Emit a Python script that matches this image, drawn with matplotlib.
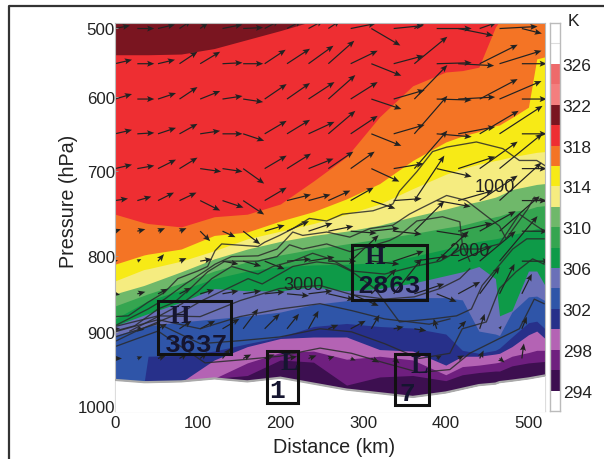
import numpy as np
import matplotlib
matplotlib.use("Agg")
import matplotlib.pyplot as plt
from matplotlib.lines import Line2D
from matplotlib.patches import Rectangle
from matplotlib.colors import ListedColormap, BoundaryNorm
from matplotlib.ticker import NullLocator

plt.rcParams['font.family'] = ['Liberation Sans', 'DejaVu Sans']

# ================================
# Data
# ================================
dist_km = [0, 35, 40, 80, 120, 160, 200, 240, 280, 320, 360, 400, 420, 440, 460, 465, 480, 500, 510, 520]

# pressure (hPa) of each isentrope along the section
th_320 = [539, 539, 539, 538, 530, 517, 504, 490, 480, 480, 480, 480, 480, 480, 480, 480, 480, 480, 480, 480]
th_318 = [751, 761, 762, 766, 754, 751, 739, 712, 681, 627, 584, 564, 562, 557, 499, 490, 480, 480, 480, 480]
th_316 = [811, 799, 798, 792, 776, 772, 759, 748, 733, 715, 686, 661, 653, 647, 639, 638, 628, 614, 545, 542]
th_314 = [833, 818, 817, 807, 794, 780, 771, 762, 751, 739, 721, 704, 697, 691, 686, 685, 681, 677, 675, 674]
th_312 = [850, 839, 837, 821, 804, 792, 783, 776, 771, 764, 754, 745, 740, 736, 731, 729, 722, 718, 716, 715]
th_310 = [866, 852, 850, 836, 820, 808, 799, 792, 786, 780, 774, 767, 764, 759, 754, 753, 748, 745, 742, 741]
th_308 = [883, 862, 859, 845, 830, 820, 814, 812, 811, 809, 801, 792, 788, 783, 780, 779, 775, 771, 768, 768]
th_306 = [892, 878, 876, 861, 843, 846, 846, 841, 846, 843, 836, 826, 821, 814, 830, 879, 872, 820, 820, 839]
th_304 = [905, 894, 892, 887, 883, 879, 874, 864, 859, 859, 855, 855, 858, 899, 903, 905, 874, 854, 853, 859]
th_302 = [968, 970, 933, 932, 926, 916, 907, 893, 889, 893, 895, 903, 925, 929, 925, 922, 907, 888, 886, 896]
th_300 = [966, 970, 970, 968, 938, 920, 909, 907, 907, 924, 926, 945, 933, 933, 930, 929, 920, 904, 899, 909]
th_298 = [966, 970, 970, 968, 963, 942, 928, 926, 937, 933, 938, 958, 947, 945, 942, 941, 933, 928, 925, 925]
th_296 = [966, 970, 970, 968, 963, 959, 938, 941, 972, 961, 959, 966, 958, 955, 953, 953, 946, 942, 941, 940]
ground = [965, 968, 968, 967, 963, 967, 962, 970, 978, 983, 988, 982, 977, 972, 970, 968, 966, 963, 961, 959]

# geopotential height contours, each with its own points
hgt_1_km = [0, 16, 40, 60, 76, 100, 112, 121, 129, 173, 181, 199, 215, 235, 256, 275, 312, 336, 344, 365, 384, 401, 437, 469, 489, 510, 520]
hgt_1_p = [880, 879, 861, 848, 830, 820, 814, 794, 786, 789, 784, 776, 768, 756, 759, 751, 747, 739, 724, 701, 674, 668, 661, 670, 686, 686, 693]
hgt_2_km = [0, 40, 60, 85, 109, 121, 141, 173, 196, 215, 227, 256, 284, 308, 336, 356, 368, 401, 425, 449, 465, 473, 499, 507, 520]
hgt_2_p = [892, 870, 857, 837, 820, 811, 801, 800, 792, 772, 776, 772, 778, 768, 764, 751, 745, 729, 735, 753, 765, 780, 745, 731, 736]
hgt_3_km = [0, 24, 52, 72, 93, 112, 133, 173, 196, 211, 227, 256, 284, 308, 332, 344, 365, 396, 417, 420, 429]
hgt_3_p = [899, 892, 870, 861, 841, 821, 807, 807, 801, 787, 792, 786, 795, 789, 782, 776, 759, 754, 760, 786, 807]
hgt_4_km = [18, 52, 81, 100, 117, 141, 173, 191, 215, 239, 260, 287, 326, 362, 393, 419, 441, 465, 489, 519]
hgt_4_p = [899, 880, 863, 847, 830, 814, 824, 814, 807, 797, 804, 820, 824, 814, 807, 792, 792, 786, 751, 771]
hgt_5_km = [0, 24, 52, 81, 105, 136, 161, 178, 199, 215, 244, 268, 287, 314, 344, 384, 413, 431, 444, 461, 481, 498, 519]
hgt_5_p = [913, 900, 887, 874, 859, 843, 830, 837, 824, 814, 808, 811, 821, 843, 887, 883, 879, 870, 839, 817, 792, 780, 780]
hgt_6_km = [0, 52, 103, 151, 199, 248, 286, 326, 362, 393, 417, 429]
hgt_6_p = [893, 879, 880, 859, 843, 839, 851, 857, 854, 843, 830, 817]
hgt_7_km = [0, 52, 103, 151, 199, 248, 286, 326, 380, 405]
hgt_7_p = [900, 884, 896, 880, 870, 863, 872, 883, 890, 883]
hgt_8_km = [0, 52, 103, 151, 199, 248, 286, 326, 368, 405, 420, 449, 465, 485, 505, 519]
hgt_8_p = [907, 889, 916, 912, 907, 896, 900, 916, 936, 929, 896, 887, 843, 821, 804, 811]
hgt_9_km = [0, 52, 109, 151, 199, 248, 286, 326, 368, 405, 429, 465, 489, 507, 519]
hgt_9_p = [920, 899, 942, 938, 933, 922, 929, 942, 955, 951, 929, 909, 896, 857, 863]

# wind vectors
wind_km = [0, 27, 52, 78, 103, 130, 155, 181, 208, 234, 258, 285, 310, 337, 362, 389, 415, 441, 465, 492]
wind_p = [501, 552, 603, 650, 697, 735, 771, 807, 850, 896, 936]
wind_u = [
    [15, 17, 17, 12, 8, 20, 20, 15, 15, 15, 12, 25, 29, 30, 25, 35, 35, 17, 38, 20],
    [17, 17, 17, 18, 20, 20, 20, 21, 23, 25, 26, 27, 30, 30, 33, 35, 36, 38, 42, 25],
    [17, 17, 18, 18, 20, 20, 20, 22, 23, 26, 27, 27, 30, 31, 33, 35, 37, 38, 42, 25],
    [17, 17, 18, 18, 20, 20, 21, 22, 23, 26, 27, 27, 30, 31, 33, 35, 37, 39, 43, 25],
    [17, 17, 18, 18, 21, 20, 21, 22, 24, 25, 25, 24, 28, 30, 33, 35, 37, 38, 43, 25],
    [13, 14, 16, 17, 20, 21, 21, 22, 24, 22, 22, 23, 24, 28, 30, 34, 35, 38, 42, 25],
    [6, 8, 7, 7, 10, 13, 17, 20, 22, 24, 25, 26, 28, 28, 30, 32, 34, 36, 40, 26],
    [3, 4, 6, 7, 12, 16, 18, 20, 24, 26, 28, 28, 28, 30, 34, 32, 34, 36, 38, 28],
    [5, 8, 10, 12, 14, 16, 18, 20, 22, 24, 26, 28, 25, 28, 30, 20, 22, 20, 15, 10],
    [5, 7, 9, 12, 15, 17, 15, 15, 12, 10, 10, 15, 8, 10, 12, -3, 8, 5, 2, 5],
    [7, 5, 8, 8, 7, 8, 8, 10, 10, 8, 6, 5, 8, 6, 5, 5, 6, 4, 5, 2],
]
wind_v = [
    [3, 0, 4, 8, 6, 4, 1, 8, 8, 8, 8, 5, -17, 3, 13, 0, -7, 6, 2, -5],
    [4, 0, 4, 12, 12, 1, 0, 14, 15, 18, 23, 13, -12, 8, 27, 1, -2, 19, 13, 0],
    [5, 0, 6, 12, 8, 3, -3, 15, 16, 17, 24, 17, -10, 9, 34, -1, 2, 20, 18, 0],
    [4, 1, 6, 10, 3, 0, -7, 13, 14, 12, 23, 18, -12, 9, 38, -3, 7, 23, 28, 0],
    [4, 3, 9, 11, -3, -3, -15, 13, 15, 10, 17, 17, -13, 5, 38, -8, 12, 27, 35, 0],
    [2, 4, 8, 8, -10, -7, -14, 13, 6, 6, 10, 13, -8, 2, 45, -6, 10, 25, 38, 0],
    [2, 2, 3, 3, -10, -6, -13, 6, 10, 8, 5, -2, 3, -3, 30, -5, 8, 20, 35, 0],
    [1, 2, 7, 3, 2, -3, -5, -8, 2, 4, 0, 26, -3, 10, 5, 30, 15, 30, 45, 0],
    [-1, 2, 5, 6, 4, 3, 3, 2, -2, 3, -6, -12, 25, 35, 10, -8, 12, 27, 30, 20],
    [0, -1, 5, 8, 8, 10, 20, 15, 15, 18, 4, 8, 14, 2, -2, 10, 8, 15, 3, 12],
    [0, 2, 3, 5, 6, 10, 4, 4, 2, 3, 2, -2, -4, -5, 8, 3, 3, 8, -4, 15],
]

# colour scale
cb_levels = list(range(292, 332, 2))
cb_ticks = [294, 298, 302, 306, 310, 314, 318, 322, 326]
cb_colors = ['#ffffff', '#3d0f50', '#6f1f7f', '#b463b4', '#27308a', '#2f55a8', '#6a70b8',
             '#0e9a48', '#35a550', '#6fb86a', '#f5ec80', '#f7ea16', '#f47425', '#ee2e32',
             '#7a1520', '#f47e7e', '#ee6a6b', '#ffffff', '#ffffff']

# ================================
# Axis scale (the tick spacing in the figure is uneven)
# ================================
scale_p = [300, 500, 600, 700, 800, 900, 1000, 1200]
scale_y = [-109, 29, 98, 172, 257, 333, 407, 555]


def p_to_y(p):
    return np.interp(p, scale_p, scale_y)


def y_to_p(y):
    return np.interp(y, scale_y, scale_p)


W, H = 604, 460
fig = plt.figure(figsize=(W / 100, H / 100), dpi=100)
ax = fig.add_axes([115 / W, 1 - 412 / H, 430 / W, 388 / H])
ax.set_yscale('function', functions=(p_to_y, y_to_p))

# ================================
# Filled bands, painted top to bottom
# ================================
ax.fill_between(dist_km, 470, 1010, color=cb_colors[14], lw=0)
band_list = [(th_320, 13), (th_318, 12), (th_316, 11), (th_314, 10), (th_312, 9), (th_310, 8),
             (th_308, 7), (th_306, 6), (th_304, 5), (th_302, 4), (th_300, 3), (th_298, 2), (th_296, 1)]
for bound, c in band_list:
    ax.fill_between(dist_km, bound, 1010, color=cb_colors[c], lw=0)

# height contours
hgt_lines = [(hgt_1_km, hgt_1_p), (hgt_2_km, hgt_2_p), (hgt_3_km, hgt_3_p), (hgt_4_km, hgt_4_p),
             (hgt_5_km, hgt_5_p), (hgt_6_km, hgt_6_p), (hgt_7_km, hgt_7_p), (hgt_8_km, hgt_8_p),
             (hgt_9_km, hgt_9_p)]
for km, p in hgt_lines:
    ax.plot(km, p, color='#2a2a2a', lw=0.95, alpha=0.85)

# winds
X, Y = np.meshgrid(wind_km, wind_p)
ax.quiver(X, Y, np.array(wind_u), np.array(wind_v), angles='uv', scale_units='dots', scale=1,
          pivot='tail', color='#222222', width=0.0028, headwidth=5, headlength=6, headaxislength=5)

# below ground
ax.fill_between(dist_km, ground, 1010, color='white', lw=0, zorder=3)
ax.plot(dist_km, ground, color='#aaaaaa', lw=1.6, zorder=3)

# contour labels
ax.text(459, 718, '1000', fontsize=13, ha='center', va='center', color='#222222', zorder=4)
ax.text(428, 794, '2000', fontsize=13, ha='center', va='center', color='#222222', zorder=4)
ax.text(228, 838, '3000', fontsize=13, ha='center', va='center', color='#222222', zorder=4)

# H / L boxes
boxes = [(52, 140, 859, 930), (184, 221, 926, 996), (287, 377, 787, 858), (339, 380, 930, 999)]
for x0, x1, p0, p1 in boxes:
    ax.add_patch(Rectangle((x0, p0), x1 - x0, p1 - p0, fill=False, ec='#111111', lw=2.2, zorder=5))
letters = [(78, 878, 'H'), (211, 942, 'L'), (314, 801, 'H'), (368, 946, 'L')]
for x, p, s in letters:
    ax.text(x, p, s, family='Liberation Serif', weight='bold', fontsize=19, ha='center', va='center',
            color='#151530', zorder=5)
digits = [(99, 916, '3637'), (196, 979, '1'), (332, 839, '2863'), (354, 983, '7')]
for x, p, s in digits:
    ax.text(x, p, s, family='Liberation Mono', weight='bold', fontsize=19, ha='center', va='center',
            color='#151530', zorder=5)

# ================================
# Axes
# ================================
ax.set_xlim(0, 520)
ax.set_ylim(1007, 493)
ax.set_xticks([0, 100, 200, 300, 400, 500])
ax.set_xticks(np.arange(0, 521, 20), minor=True)
ax.set_yticks([500, 600, 700, 800, 900, 1000])
ax.yaxis.set_minor_locator(NullLocator())
ax.tick_params(axis='both', which='both', direction='in', color='#999999', length=2, width=0.6,
               labelsize=12.2, labelcolor='#222222', pad=0)
ax.tick_params(axis='x', pad=3)
for s in ax.spines.values():
    s.set_color('#bbbbbb')
    s.set_linewidth(0.8)
fig.text(68 / W, 1 - 201 / H, 'Pressure (hPa)', rotation=90, fontsize=14.2, ha='center', va='center',
         color='#222222')
fig.text(334 / W, 1 - 448 / H, 'Distance (km)', fontsize=14.2, ha='center', va='center', color='#222222')

# ================================
# Colour bar
# ================================
cax = fig.add_axes([550 / W, 1 - 412 / H, 10 / W, 388 / H])
cmap = ListedColormap(cb_colors)
cax.pcolormesh([0, 1], cb_levels, np.array(cb_levels[:-1]).reshape(-1, 1) + 1,
               cmap=cmap, norm=BoundaryNorm(cb_levels, cmap.N))
cax.axhline(328, color='#dddddd', lw=0.8)
cax.set_xticks([])
cax.yaxis.tick_right()
cax.set_yticks(cb_ticks)
cax.tick_params(axis='y', length=0, labelsize=12.5, labelcolor='#222222', pad=2)
for s in cax.spines.values():
    s.set_color('#bbbbbb')
    s.set_linewidth(1.0)
fig.text(573 / W, 1 - 21 / H, 'K', fontsize=12.5, ha='center', va='center', color='#222222')

# outer frame of the figure
fig.add_artist(Line2D([9 / W, 9 / W, 1], [0, 1 - 7 / H, 1 - 7 / H], color='#333333', lw=1.6))

fig.savefig('out.png', dpi=100)
